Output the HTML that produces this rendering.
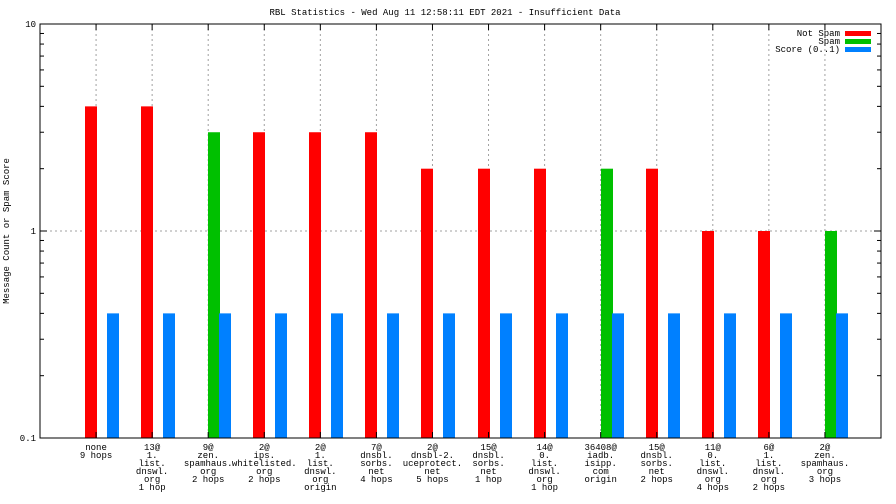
<!DOCTYPE html>
<html><head><meta charset="utf-8"><style>
body{margin:0;background:#fff}
svg{display:block;font-family:"Liberation Mono",monospace;font-size:9px}
</style></head><body>
<svg id="c" width="896" height="504">
<rect width="896" height="504" fill="#fff"/>
<text x="445" y="15" text-anchor="middle">RBL Statistics - Wed Aug 11 12:58:11 EDT 2021 - Insufficient Data</text>
<text transform="translate(9,231) rotate(-90)" text-anchor="middle">Message Count or Spam Score</text>
<g id="grid"></g><g id="bars"></g><g id="axes"></g><g id="labels"></g>
<g>
<text x="840" y="36" text-anchor="end">Not Spam</text>
<rect x="845" y="31" width="26" height="5" fill="#ff0000"/>
<text x="840" y="44" text-anchor="end">Spam</text>
<rect x="845" y="39" width="26" height="5" fill="#00c000"/>
<text x="840" y="52" text-anchor="end">Score (0..1)</text>
<rect x="845" y="47" width="26" height="5" fill="#0080ff"/>
</g>
</svg>
<script>
const categories=[["none","9 hops"],["13@","1.","list.","dnswl.","org","1 hop"],["9@","zen.","spamhaus.","org","2 hops"],["2@","ips.","whitelisted.","org","2 hops"],["2@","1.","list.","dnswl.","org","origin"],["7@","dnsbl.","sorbs.","net","4 hops"],["2@","dnsbl-2.","uceprotect.","net","5 hops"],["15@","dnsbl.","sorbs.","net","1 hop"],["14@","0.","list.","dnswl.","org","1 hop"],["36408@","iadb.","isipp.","com","origin"],["15@","dnsbl.","sorbs.","net","2 hops"],["11@","0.","list.","dnswl.","org","4 hops"],["6@","1.","list.","dnswl.","org","2 hops"],["2@","zen.","spamhaus.","org","3 hops"]];
const notSpam=[4,4,0,3,3,3,2,2,2,0,2,1,1,0];
const spam=[0,0,3,0,0,0,0,0,0,2,0,0,0,1];
const score=[0.4,0.4,0.4,0.4,0.4,0.4,0.4,0.4,0.4,0.4,0.4,0.4,0.4,0.4];
const L=40,R=881,T=24,B=438;
const NS="http://www.w3.org/2000/svg";
function X(i){return L+(i+1)*(R-L)/(categories.length+1);}
function Y(v){return B-(Math.log10(v)+1)/2*(B-T);}
function mk(tag,at,parent){const e=document.createElementNS(NS,tag);for(const k in at)e.setAttribute(k,at[k]);document.getElementById(parent).appendChild(e);return e;}
categories.forEach((c,i)=>{const g=mk('line',{x1:X(i),x2:X(i),y1:T,y2:B,stroke:'#a0a0a0','stroke-dasharray':'2,3'},'grid');

});
const hg=mk('line',{x1:L,x2:R,y1:Y(1),y2:Y(1),stroke:'#a0a0a0','stroke-dasharray':'2,3'},'grid');


const W=12;
categories.forEach((c,i)=>{
 const xc=Math.round(X(i));
 if(notSpam[i]>0){const r=mk('rect',{x:xc-11,y:Y(notSpam[i]),width:W,height:B-Y(notSpam[i]),fill:'#ff0000'},'bars');
 
 }
 if(spam[i]>0){const r=mk('rect',{x:xc,y:Y(spam[i]),width:W,height:B-Y(spam[i]),fill:'#00c000'},'bars');
 
 }
 const s=mk('rect',{x:xc+11,y:Y(score[i]),width:W,height:B-Y(score[i]),fill:'#0080ff'},'bars');
 
 
 const t=mk('text',{'text-anchor':'middle'},'labels');
 
 
 c.forEach((ln,j)=>{const ts=document.createElementNS(NS,'tspan');ts.setAttribute('x',X(i));ts.setAttribute('y',450+j*8);ts.textContent=ln;t.appendChild(ts);});
 mk('line',{x1:X(i),x2:X(i),y1:B,y2:B-6,stroke:'#000'},'axes');
 mk('line',{x1:X(i),x2:X(i),y1:T,y2:T+6,stroke:'#000'},'axes');
});
const fr=mk('rect',{x:L,y:T,width:R-L,height:B-T,fill:'none',stroke:'#000'},'axes');


const yt=[["0.1",0.1],["1",1],["10",10]];
yt.forEach(([lab,v])=>{mk('line',{x1:L,x2:L+7,y1:Y(v),y2:Y(v),stroke:'#000'},'axes');mk('line',{x1:R,x2:R-7,y1:Y(v),y2:Y(v),stroke:'#000'},'axes');
 const t=mk('text',{x:L-4,y:Y(v)+3,'text-anchor':'end'},'axes');t.textContent=lab;
 
 });
[0.1,1].forEach(d=>{for(let m=2;m<10;m++){const y=Y(d*m);mk('line',{x1:L,x2:L+4,y1:y,y2:y,stroke:'#000'},'axes');mk('line',{x1:R,x2:R-4,y1:y,y2:y,stroke:'#000'},'axes');}});
</script>
</body></html>
